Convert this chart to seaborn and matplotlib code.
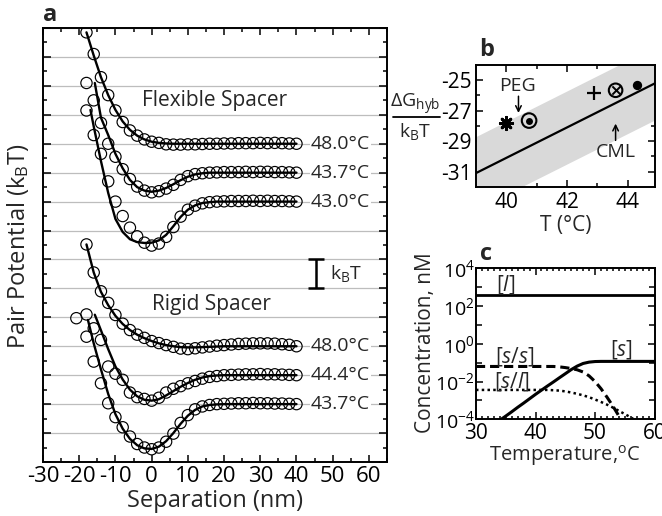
import numpy as np
import matplotlib
matplotlib.use('Agg')
import matplotlib.pyplot as plt
from matplotlib.ticker import FixedLocator, NullFormatter, MultipleLocator
from matplotlib.lines import Line2D
import seaborn as sns

# ---------------- panel a : pair potentials (kT) ----------------
sep = [-18, -16, -14, -12, -10, -8, -6, -4, -2, 0, 2, 4, 6, 8, 10, 12, 14, 16, 18, 20,
       22, 24, 26, 28, 30, 32, 34, 36, 38, 40]

flex_480 = [3.85, 3.10, 2.30, 1.68, 1.15, 0.75, 0.46, 0.28, 0.15, 0.07, 0.03, -0.02, -0.03, -0.03, -0.02,
            -0.02, -0.01, 0.00, 0.00, 0.01, 0.01, 0.02, 0.02, 0.02, 0.03, 0.02, 0.03, 0.02, 0.01, 0.00]
flex_437 = [3.10, 2.50, 1.72, 1.00, 0.55, 0.12, -0.22, -0.48, -0.62, -0.68, -0.64, -0.55, -0.42, -0.25, -0.12,
            -0.05, -0.02, 0.00, 0.01, 0.02, 0.02, 0.02, 0.03, 0.02, 0.03, 0.03, 0.02, 0.02, 0.01, 0.00]
flex_430 = [3.15, 2.30, 1.65, 0.70, 0.00, -0.50, -0.90, -1.20, -1.42, -1.52, -1.45, -1.22, -0.88, -0.52, -0.28,
            -0.14, -0.06, -0.02, 0.00, 0.01, 0.02, 0.02, 0.02, 0.03, 0.02, 0.03, 0.02, 0.02, 0.01, 0.00]
rig_480 = [3.52, 2.55, 1.90, 1.50, 1.08, 0.78, 0.56, 0.40, 0.29, 0.18, 0.11, 0.04, -0.02, -0.08, -0.10,
           -0.07, -0.04, -0.01, 0.02, 0.04, 0.06, 0.08, 0.09, 0.10, 0.10, 0.10, 0.09, 0.07, 0.05, 0.00]
rig_444 = [2.10, 1.62, 1.22, 0.30, 0.05, -0.16, -0.60, -0.76, -0.82, -0.88, -0.78, -0.60, -0.47, -0.38, -0.28,
           -0.20, -0.12, -0.06, -0.03, 0.00, 0.01, 0.02, 0.03, 0.03, 0.04, 0.03, 0.03, 0.02, 0.01, 0.00]
rig_437 = [2.33, 1.47, 0.72, 0.03, -0.45, -0.80, -1.12, -1.38, -1.50, -1.56, -1.50, -1.30, -1.02, -0.65, -0.38,
           -0.18, -0.08, -0.03, 0.00, 0.01, 0.02, 0.03, 0.03, 0.04, 0.03, 0.03, 0.02, 0.02, 0.01, 0.00]
rig_437_extra_x = [-20.8]
rig_437_extra = [2.97]

# fitted curves
fit_sep_a = sep
fit_sep_b = [-15.7, -14, -12, -10, -8, -6, -4, -2, 0, 2, 4, 6, 8, 10, 12, 14, 16, 18, 20,
             22, 24, 26, 28, 30, 32, 34, 36, 38, 40]
fit_sep_c = [-16.9, -16, -14, -12, -10, -8, -6, -4, -2, 0, 2, 4, 6, 8, 10, 12, 14, 16, 18, 20,
             22, 24, 26, 28, 30, 32, 34, 36, 38, 40]
fit_sep_d = [-17.6, -16, -14, -12, -10, -8, -6, -4, -2, 0, 2, 4, 6, 8, 10, 12, 14, 16, 18, 20,
             22, 24, 26, 28, 30, 32, 34, 36, 38, 40]
flex_480_fit = [3.85, 3.05, 2.30, 1.68, 1.17, 0.77, 0.48, 0.28, 0.15, 0.07, 0.03, 0.01, 0.00, 0.00, 0.00,
                0.00, 0.00, 0.00, 0.00, 0.00, 0.00, 0.00, 0.00, 0.00, 0.00, 0.00, 0.00, 0.00, 0.00, 0.00]
flex_437_fit = [3.10, 1.90, 1.30, 0.65, 0.15, -0.25, -0.50, -0.62, -0.66, -0.62, -0.53, -0.40, -0.26, -0.14,
                -0.06, -0.02, 0.00, 0.00, 0.00, 0.00, 0.00, 0.00, 0.00, 0.00, 0.00, 0.00, 0.00, 0.00, 0.00]
flex_430_fit = [3.17, 2.60, 1.40, 0.30, -0.60, -1.05, -1.30, -1.40, -1.43, -1.42, -1.34, -1.15, -0.85, -0.53,
                -0.28, -0.13, -0.05, -0.02, 0.00, 0.00, 0.00, 0.00, 0.00, 0.00, 0.00, 0.00, 0.00, 0.00, 0.00, 0.00]
rig_480_fit = [3.52, 2.55, 1.88, 1.42, 1.05, 0.77, 0.56, 0.40, 0.28, 0.18, 0.10, 0.04, 0.00, -0.03, -0.04,
               -0.04, -0.03, -0.02, -0.01, 0.00, 0.00, 0.00, 0.00, 0.00, 0.00, 0.00, 0.00, 0.00, 0.00, 0.00]
rig_444_fit = [2.09, 1.55, 0.90, 0.30, -0.15, -0.50, -0.73, -0.85, -0.88, -0.83, -0.70, -0.55, -0.40, -0.27,
               -0.16, -0.08, -0.03, -0.01, 0.00, 0.00, 0.00, 0.00, 0.00, 0.00, 0.00, 0.00, 0.00, 0.00, 0.00]
rig_437_fit = [2.91, 2.10, 1.20, 0.35, -0.35, -0.85, -1.20, -1.42, -1.53, -1.55, -1.47, -1.28, -1.00, -0.68,
               -0.40, -0.20, -0.08, -0.03, -0.01, 0.00, 0.00, 0.00, 0.00, 0.00, 0.00, 0.00, 0.00, 0.00, 0.00, 0.00]

curve_labels = ['48.0°C', '43.7°C', '43.0°C', '48.0°C', '44.4°C', '43.7°C']

# ---------------- panel b : hybridisation free energy ----------------
T_b = [40.0, 40.75, 42.9, 43.6, 44.3]
dG_b = [-27.8, -27.65, -25.87, -25.66, -25.33]
cml_T = [39.0, 44.9]
cml_dG = [-31.1, -25.2]
cml_band = 2.4

# ---------------- panel c : concentrations (nM) ----------------
temp_l = [30, 60]
conc_l = [400, 400]
temp_ss = [30, 31, 32, 33, 34, 35, 36, 37, 38, 39, 40, 41, 42, 43, 44, 45, 46, 47, 48, 49, 50, 51, 52, 53, 54, 55]
conc_ss = [0.063, 0.063, 0.063, 0.063, 0.063, 0.063, 0.063, 0.063, 0.063, 0.063, 0.063, 0.063, 0.063, 0.063,
           0.060, 0.055, 0.049, 0.042, 0.032, 0.020, 0.010, 0.0042, 0.0015, 0.0005, 0.00015, 0.000045]
temp_sl = [30, 31, 32, 33, 34, 35, 36, 37, 38, 39, 40, 41, 42, 43, 44, 45, 46, 47, 48, 49, 50, 51, 52, 53, 54,
           55, 56, 57]
conc_sl = [0.0036, 0.0036, 0.0036, 0.0036, 0.0036, 0.0036, 0.0036, 0.0036, 0.0036, 0.0036, 0.0036, 0.0036,
           0.0036, 0.00347, 0.00331, 0.00302, 0.00263, 0.00224, 0.00186, 0.00148, 0.00112, 0.00083, 0.00060,
           0.00042, 0.00028, 0.00019, 0.000126, 0.000079]
temp_s = [34, 35, 36, 37, 38, 39, 40, 41, 42, 43, 44, 45, 46, 47, 48, 49, 50, 51, 52, 53, 54, 55, 56, 57, 58,
          59, 60]
conc_s = [8.9e-5, 1.48e-4, 2.5e-4, 4.3e-4, 7.2e-4, 1.23e-3, 2.1e-3, 3.5e-3, 5.8e-3, 9.5e-3, 0.0158, 0.026,
          0.043, 0.066, 0.091, 0.107, 0.115, 0.117, 0.117, 0.117, 0.117, 0.117, 0.117, 0.117, 0.117, 0.117, 0.117]

sns.set_style('ticks')
plt.rcParams['font.family'] = ['Open Sans', 'DejaVu Sans']
plt.rcParams['mathtext.fontset'] = 'custom'
plt.rcParams['mathtext.rm'] = 'Open Sans'
plt.rcParams['mathtext.it'] = 'Open Sans:italic'
plt.rcParams['mathtext.bf'] = 'Open Sans:bold'
plt.rcParams['axes.unicode_minus'] = False
plt.rcParams['axes.linewidth'] = 1.4

fig = plt.figure(figsize=(6.62, 5.16), dpi=100)


def style_ticks(ax, size):
    ax.tick_params(which='both', direction='in', top=True, right=True, width=1.1, colors='black',
                   labelsize=size, pad=4)
    ax.tick_params(which='major', length=5)
    ax.tick_params(which='minor', length=3)
    for sp in ax.spines.values():
        sp.set_color('black')


# ---------------- panel a ----------------
ax = fig.add_axes([0.065, 0.1047, 0.5196, 0.841])
offsets = [11, 10, 9, 4, 3, 2]
pts = [flex_480, flex_437, flex_430, rig_480, rig_444, rig_437]
fits = [(fit_sep_a, flex_480_fit), (fit_sep_b, flex_437_fit), (fit_sep_c, flex_430_fit),
        (fit_sep_a, rig_480_fit), (fit_sep_b, rig_444_fit), (fit_sep_d, rig_437_fit)]
for off, p, (fx, fy), lab in zip(offsets, pts, fits, curve_labels):
    sns.scatterplot(x=sep, y=np.array(p) + off, ax=ax, marker='o', s=66, fc='none', ec='black',
                    linewidth=0.85, zorder=3)
    sns.lineplot(x=fx, y=np.array(fy) + off, ax=ax, color='black', lw=1.7, sort=False, zorder=4)
    ax.text(44.0, off, lab, fontsize=14, va='center', ha='left', zorder=5,
            bbox=dict(facecolor='white', edgecolor='none', pad=0.5))
sns.scatterplot(x=rig_437_extra_x, y=np.array(rig_437_extra) + 2, ax=ax, marker='o', s=66, fc='none',
                ec='black', linewidth=0.85, zorder=3)

ax.set_xlim(-30, 65)
ax.set_ylim(0, 15)
ax.xaxis.set_major_locator(MultipleLocator(10))
ax.xaxis.set_minor_locator(MultipleLocator(5))
ax.yaxis.set_major_locator(MultipleLocator(1))
ax.yaxis.set_minor_locator(MultipleLocator(0.5))
ax.set_yticklabels([])
ax.yaxis.grid(True, which='major', color='#bdbdbd', lw=0.9)
ax.set_axisbelow(True)
style_ticks(ax, 16)
ax.tick_params(axis='y', which='major', length=6)
ax.tick_params(axis='x', which='major', pad=3)
ax.set_xlabel('Separation (nm)', fontsize=17, labelpad=1)
ax.set_ylabel('')
ax.text(17.4, 12.5, 'Flexible Spacer', fontsize=15, ha='center', va='center')
ax.text(16.6, 5.43, 'Rigid Spacer', fontsize=15, ha='center', va='center')
ax.errorbar([45.5], [6.5], yerr=[0.5], color='black', lw=1.8, capsize=6, capthick=1.8, zorder=5)
ax.text(49.2, 6.5, r'k$_{\rm B}$T', fontsize=14, ha='left', va='center')
fig.text(0.027, 0.523, r'Pair Potential (k$_{\rm B}$T)', rotation=90, fontsize=17, ha='center', va='center')
fig.text(0.0755, 0.971, 'a', fontsize=17, fontweight='bold', ha='center', va='center')

# ---------------- panel b ----------------
bx = fig.add_axes([0.719, 0.638, 0.2705, 0.236])
band_T = np.array(cml_T)
band_dG = np.array(cml_dG)
bx.fill_between(band_T, band_dG - cml_band, band_dG + cml_band, color='#d9d9d9', lw=0, zorder=1)
sns.lineplot(x=cml_T, y=cml_dG, ax=bx, color='black', lw=1.6, zorder=3)
sns.scatterplot(x=T_b[:1], y=dG_b[:1], ax=bx, marker=(8, 2, 0), s=80, color='black', linewidth=2, zorder=4)
sns.scatterplot(x=T_b[1:2], y=dG_b[1:2], ax=bx, marker='o', s=110, fc='none', ec='black', linewidth=1.5, zorder=4)
sns.scatterplot(x=T_b[1:2], y=dG_b[1:2], ax=bx, marker='o', s=25, color='black', linewidth=0, zorder=4)
sns.scatterplot(x=T_b[2:3], y=dG_b[2:3], ax=bx, marker='+', s=110, color='black', linewidth=1.6, zorder=4)
sns.scatterplot(x=T_b[3:4], y=dG_b[3:4], ax=bx, marker='o', s=95, fc='none', ec='black', linewidth=1.5, zorder=4)
sns.scatterplot(x=T_b[3:4], y=dG_b[3:4], ax=bx, marker='x', s=35, color='black', linewidth=1.4, zorder=4)
sns.scatterplot(x=T_b[4:5], y=dG_b[4:5], ax=bx, marker='o', s=45, color='black', linewidth=0, zorder=4)
bx.set_xlim(39.0, 44.9)
bx.set_ylim(-32, -24)
bx.xaxis.set_major_locator(FixedLocator([40, 42, 44]))
bx.xaxis.set_minor_locator(FixedLocator([41, 43]))
bx.yaxis.set_major_locator(FixedLocator([-31, -29, -27, -25]))
bx.yaxis.set_minor_locator(FixedLocator([-30, -28, -26]))
style_ticks(bx, 15)
bx.tick_params(axis='y', which='major', pad=3)
bx.set_xlabel('T (°C)', fontsize=15, labelpad=1)
bx.set_ylabel('')
bx.text(40.38, -25.4, 'PEG', fontsize=14, ha='center', va='center')
bx.annotate('', xy=(40.4, -27.15), xytext=(40.4, -26.05),
            arrowprops=dict(arrowstyle='->', lw=1.1, color='black', shrinkA=0, shrinkB=0))
bx.text(43.6, -29.7, 'CML', fontsize=14, ha='center', va='center')
bx.annotate('', xy=(43.6, -27.85), xytext=(43.6, -28.95),
            arrowprops=dict(arrowstyle='->', lw=1.1, color='black', shrinkA=0, shrinkB=0))
fig.text(0.627, 0.797, r'$\Delta$G$_{\rm hyb}$', fontsize=14, ha='center', va='center')
fig.add_artist(Line2D([0.593, 0.664], [0.774, 0.774], color='black', lw=1.3))
fig.text(0.627, 0.745, r'k$_{\rm B}$T', fontsize=14, ha='center', va='center')
fig.text(0.735, 0.903, 'b', fontsize=17, fontweight='bold', ha='center', va='center')

# ---------------- panel c ----------------
cx = fig.add_axes([0.719, 0.1874, 0.2698, 0.2926])
sns.lineplot(x=temp_l, y=conc_l, ax=cx, color='black', lw=2)
sns.lineplot(x=temp_ss, y=conc_ss, ax=cx, color='black', lw=2.2, zorder=3)
cx.lines[-1].set_dashes([3, 1.6])
sns.lineplot(x=temp_sl, y=conc_sl, ax=cx, color='black', lw=1.8, zorder=3)
cx.lines[-1].set_dashes([1, 1.3])
sns.lineplot(x=temp_s, y=conc_s, ax=cx, color='black', lw=2.2, zorder=4)
cx.set_yscale('log')
cx.set_xlim(30, 60)
cx.set_ylim(1e-4, 1e4)
cx.xaxis.set_major_locator(FixedLocator([30, 40, 50, 60]))
cx.xaxis.set_minor_locator(MultipleLocator(1))
cx.yaxis.set_major_locator(FixedLocator([1e-4, 1e-2, 1, 1e2, 1e4]))
cx.yaxis.set_minor_locator(FixedLocator([1e-3, 1e-1, 1e1, 1e3]))
cx.yaxis.set_minor_formatter(NullFormatter())
style_ticks(cx, 15)
cx.tick_params(axis='y', which='major', labelsize=14, pad=1)
cx.tick_params(axis='x', which='minor', length=2.5)
cx.tick_params(axis='y', which='minor', length=4)
cx.tick_params(axis='x', which='major', pad=3)
cx.set_xlabel(r'Temperature,$^{\rm o}$C', fontsize=14.5, labelpad=-1)
cx.set_ylabel('')
fig.text(0.643, 0.335, 'Concentration, nM', rotation=90, fontsize=15, ha='center', va='center')
cx.text(34.9, 10 ** 3.12, r'[$\it{l}$]', fontsize=15, ha='center', va='center')
cx.text(36.6, 10 ** -0.68, r'[$\it{s}$/$\it{s}$]', fontsize=15, ha='center', va='center')
cx.text(36.0, 10 ** -2.0, r'[$\it{s}$/$\it{l}$]', fontsize=15, ha='center', va='center')
cx.text(54.5, 10 ** -0.32, r'[$\it{s}$]', fontsize=15, ha='center', va='center')
fig.text(0.734, 0.508, 'c', fontsize=17, fontweight='bold', ha='center', va='center')

fig.savefig('out.png', dpi=100)
